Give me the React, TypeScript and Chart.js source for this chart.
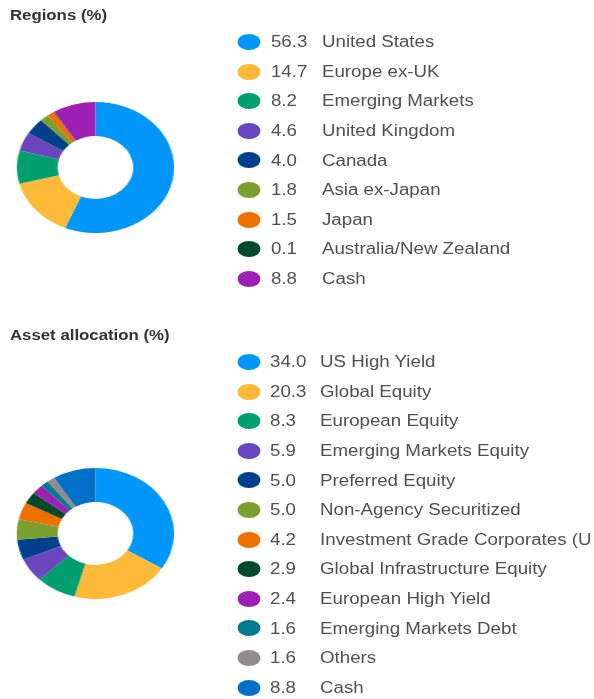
import React, { useEffect, useRef } from "react";
import { Chart, registerables } from "chart.js";

Chart.register(...registerables);

const regionTitle = "Regions (%)";
const regionLabels = [
  "United States",
  "Europe ex-UK",
  "Emerging Markets",
  "United Kingdom",
  "Canada",
  "Asia ex-Japan",
  "Japan",
  "Australia/New Zealand",
  "Cash",
];
const regionValues = [56.3, 14.7, 8.2, 4.6, 4.0, 1.8, 1.5, 0.1, 8.8];
const regionColors = [
  "#0096fa",
  "#fdba38",
  "#00a06e",
  "#6a45bd",
  "#00408a",
  "#7a9f2e",
  "#ee7000",
  "#004a2b",
  "#9d20b3",
];

const assetTitle = "Asset allocation (%)";
const assetLabels = [
  "US High Yield",
  "Global Equity",
  "European Equity",
  "Emerging Markets Equity",
  "Preferred Equity",
  "Non-Agency Securitized",
  "Investment Grade Corporates (U",
  "Global Infrastructure Equity",
  "European High Yield",
  "Emerging Markets Debt",
  "Others",
  "Cash",
];
const assetValues = [34.0, 20.3, 8.3, 5.9, 5.0, 5.0, 4.2, 2.9, 2.4, 1.6, 1.6, 8.8];
const assetColors = [
  "#0096fa",
  "#fdba38",
  "#00a06e",
  "#6a45bd",
  "#00408a",
  "#7a9f2e",
  "#ee7000",
  "#004a2b",
  "#9d20b3",
  "#007b92",
  "#948c8c",
  "#0070c8",
];

const SCALE = 1.2;
const FONT = "'Liberation Sans', Arial, sans-serif";

function Donut(props: {
  labels: string[];
  values: number[];
  colors: string[];
  left: number;
  top: number;
  size: number;
}) {
  const ref = useRef<HTMLCanvasElement>(null);
  useEffect(() => {
    const chart = new Chart(ref.current as HTMLCanvasElement, {
      type: "doughnut",
      data: {
        labels: props.labels,
        datasets: [
          {
            data: props.values,
            backgroundColor: props.colors,
            borderWidth: 0,
          },
        ],
      },
      options: {
        responsive: false,
        maintainAspectRatio: false,
        animation: false,
        cutout: "48%",
        layout: { padding: 0 },
        plugins: {
          legend: { display: false },
          tooltip: { enabled: false },
        },
      },
    });
    return () => chart.destroy();
  }, []);
  return (
    <canvas
      ref={ref}
      width={props.size}
      height={props.size}
      style={{
        position: "absolute",
        left: props.left,
        top: props.top,
        width: props.size,
        height: props.size,
      }}
    />
  );
}

function Legend(props: {
  labels: string[];
  values: number[];
  colors: string[];
  top: number;
  numLeft: number;
  labelLeft: number;
}) {
  const rowH = 29.6;
  return (
    <>
      {props.labels.map((lab, i) => (
        <div
          key={lab}
          style={{
            position: "absolute",
            left: 0,
            top: props.top + i * rowH - rowH / 2,
            height: rowH,
            width: 800,
            fontFamily: FONT,
            fontSize: 15.6,
            color: "#505050",
            whiteSpace: "nowrap",
          }}
        >
          <div
            style={{
              position: "absolute",
              left: 197.5,
              top: rowH / 2 - 8,
              width: 19,
              height: 16,
              borderRadius: "50%",
              background: props.colors[i],
            }}
          />
          <div
            style={{
              position: "absolute",
              left: props.numLeft,
              top: 0,
              lineHeight: rowH + "px",
            }}
          >
            {props.values[i].toFixed(1)}
          </div>
          <div
            style={{
              position: "absolute",
              left: props.labelLeft,
              top: 0,
              lineHeight: rowH + "px",
            }}
          >
            {lab}
          </div>
        </div>
      ))}
    </>
  );
}

export default function App() {
  return (
    <div
      style={{
        position: "absolute",
        left: 0,
        top: 0,
        width: 594,
        height: 699,
        overflow: "hidden",
        background: "#ffffff",
      }}
    >
      <div
        style={{
          position: "absolute",
          left: 0,
          top: 0,
          width: 594 / SCALE,
          height: 699,
          transform: `scaleX(${SCALE})`,
          transformOrigin: "0 0",
        }}
      >
        <div
          style={{
            position: "absolute",
            left: 8.3,
            top: 7,
            fontFamily: FONT,
            fontWeight: "bold",
            fontSize: 14,
            lineHeight: "16px",
            color: "#333333",
            whiteSpace: "nowrap",
          }}
        >
          {regionTitle}
        </div>
        <Donut
          labels={regionLabels}
          values={regionValues}
          colors={regionColors}
          left={79.2 - 65.5}
          top={167.5 - 65.5}
          size={131}
        />
        <Legend
          labels={regionLabels}
          values={regionValues}
          colors={regionColors}
          top={42}
          numLeft={225.8}
          labelLeft={268.3}
        />

        <div
          style={{
            position: "absolute",
            left: 8.3,
            top: 326.5,
            fontFamily: FONT,
            fontWeight: "bold",
            fontSize: 14,
            lineHeight: "16px",
            color: "#333333",
            whiteSpace: "nowrap",
          }}
        >
          {assetTitle}
        </div>
        <Donut
          labels={assetLabels}
          values={assetValues}
          colors={assetColors}
          left={79.2 - 65.5}
          top={533.5 - 65.5}
          size={131}
        />
        <Legend
          labels={assetLabels}
          values={assetValues}
          colors={assetColors}
          top={362}
          numLeft={225}
          labelLeft={266.7}
        />
      </div>
    </div>
  );
}
